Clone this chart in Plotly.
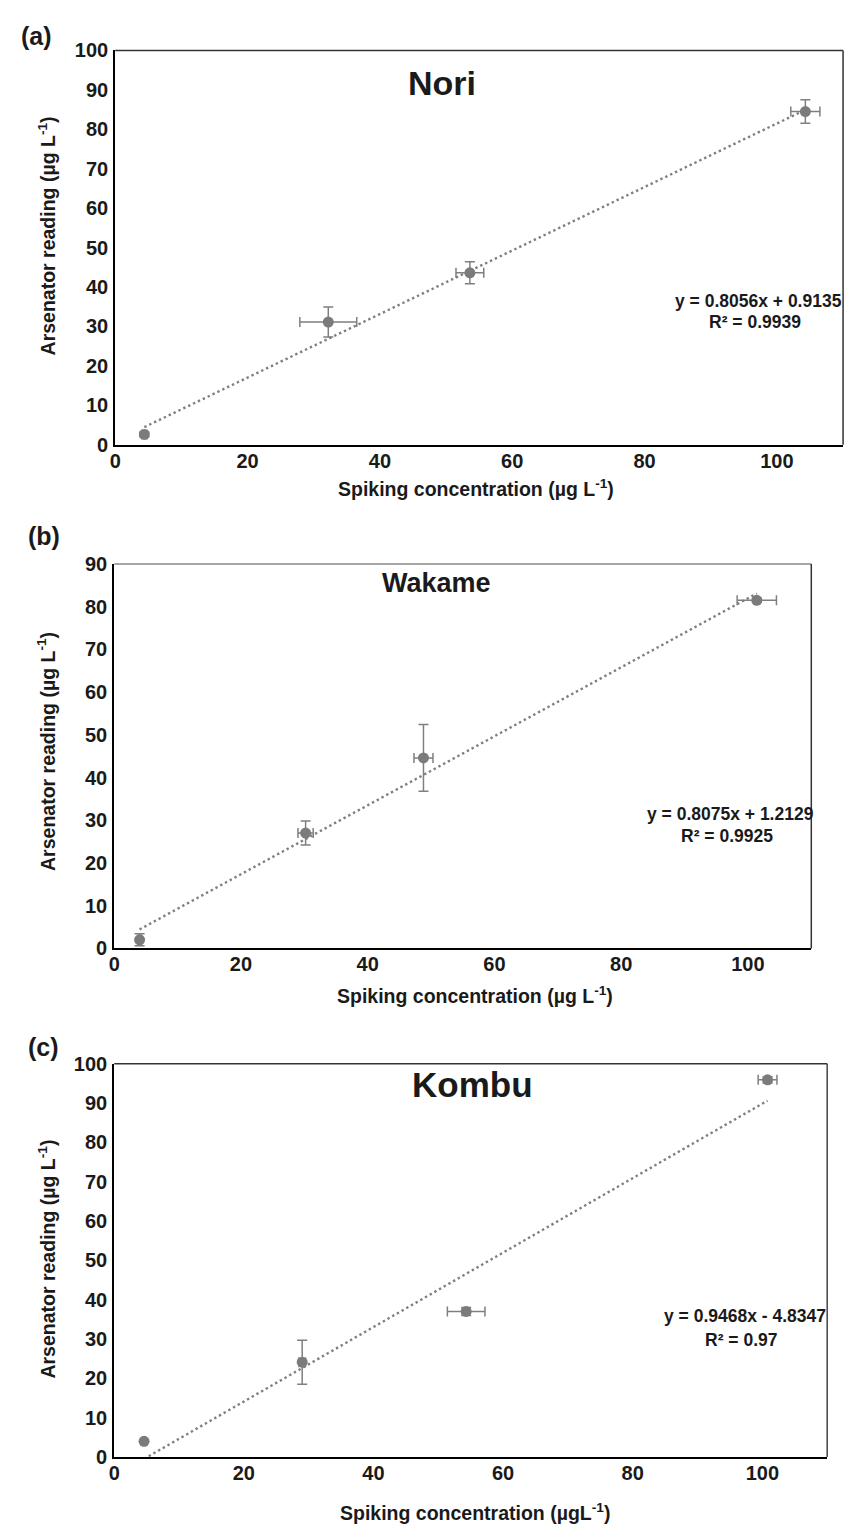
import plotly.graph_objects as go

# ---------------- data ----------------
nori_x = [4.4, 32.2, 53.6, 104.3]
nori_y = [2.6, 31.1, 43.6, 84.5]
nori_xerr = [0.4, 4.3, 2.1, 2.2]
nori_yerr = [0.6, 3.8, 2.8, 3.0]
nori_slope, nori_icpt = 0.8056, 0.9135
nori_eq = "y = 0.8056x + 0.9135"
nori_r2 = "R² = 0.9939"

wakame_x = [4.0, 30.2, 48.8, 101.4]
wakame_y = [2.0, 27.0, 44.6, 81.5]
wakame_xerr = [0.3, 1.2, 1.5, 3.1]
wakame_yerr = [1.4, 2.8, 7.8, 0.5]
wakame_slope, wakame_icpt = 0.8075, 1.2129
wakame_eq = "y = 0.8075x + 1.2129"
wakame_r2 = "R² = 0.9925"

kombu_x = [4.6, 29.0, 54.3, 100.8]
kombu_y = [4.0, 24.1, 37.0, 95.9]
kombu_xerr = [0.2, 0.5, 2.9, 1.45]
kombu_yerr = [0.3, 5.6, 1.0, 0.8]
kombu_slope, kombu_icpt = 0.9468, -4.8347
kombu_eq = "y = 0.9468x - 4.8347"
kombu_r2 = "R² = 0.97"

x_ticks = [0, 20, 40, 60, 80, 100]
y_ticks_100 = [0, 10, 20, 30, 40, 50, 60, 70, 80, 90, 100]
y_ticks_90 = [0, 10, 20, 30, 40, 50, 60, 70, 80, 90]

# ---------------- layout helpers ----------------
W, H = 853, 1537
FONT = "Liberation Sans, Arial, Helvetica, sans-serif"
GRAY = "#7b7b7b"


def px(x):
    return x / W


def py(y):
    return 1 - y / H


panels = [
    dict(name="Nori", x=nori_x, y=nori_y, xe=nori_xerr, ye=nori_yerr,
         m=nori_slope, b=nori_icpt, eq=nori_eq, r2=nori_r2,
         box=(110, 843, 40, 440), yr=[0, 100], yt=y_ticks_100,
         title_xy=(439, 73), title_size=34, label="(a)", label_xy=(31, 25),
         eq_xy=(758, 294), r2_xy=(754, 316),
         xt="Spiking concentration (µg L<sup>-1</sup>)", xt_xy=(473, 484),
         yt_xy=(41, 228), topc="#333333", rightc="#333333"),
    dict(name="Wakame", x=wakame_x, y=wakame_y, xe=wakame_xerr, ye=wakame_yerr,
         m=wakame_slope, b=wakame_icpt, eq=wakame_eq, r2=wakame_r2,
         box=(109, 811, 561, 951), yr=[0, 90], yt=y_ticks_90,
         title_xy=(434, 580), title_size=27, label="(b)", label_xy=(38, 533),
         eq_xy=(730, 815), r2_xy=(726, 837),
         xt="Spiking concentration (µg L<sup>-1</sup>)", xt_xy=(472, 998),
         yt_xy=(41, 751), topc="#888888", rightc="#333333"),
    dict(name="Kombu", x=kombu_x, y=kombu_y, xe=kombu_xerr, ye=kombu_yerr,
         m=kombu_slope, b=kombu_icpt, eq=kombu_eq, r2=kombu_r2,
         box=(109, 827, 1068, 1467), yr=[0, 100], yt=y_ticks_100,
         title_xy=(470, 1089), title_size=35, label="(c)", label_xy=(38, 1051),
         eq_xy=(744, 1324), r2_xy=(740, 1348),
         xt="Spiking concentration (µgL<sup>-1</sup>)", xt_xy=(472, 1523),
         yt_xy=(41, 1266), topc="#333333", rightc="#444444"),
]

fig = go.Figure()
annotations = []
shapes = []

for i, p in enumerate(panels):
    n = "" if i == 0 else str(i + 1)
    xa, ya = "x" + n, "y" + n
    x0, x1, y0, y1 = p["box"]

    # trend line from the fitted equation, across the measured range
    tx = [min(p["x"]), max(p["x"])]
    ty = [p["m"] * v + p["b"] for v in tx]
    fig.add_trace(go.Scatter(
        x=tx, y=ty, mode="lines", xaxis=xa, yaxis=ya, showlegend=False,
        line=dict(color="#7f7f7f", width=2.4, dash="2.4px,3px"),
        hoverinfo="skip"))

    # data points with error bars
    fig.add_trace(go.Scatter(
        x=p["x"], y=p["y"], mode="markers", xaxis=xa, yaxis=ya, showlegend=False,
        name=p["name"],
        marker=dict(color=GRAY, size=11),
        error_x=dict(type="data", array=p["xe"], visible=True,
                     color="#7f7f7f", thickness=1.5, width=5),
        error_y=dict(type="data", array=p["ye"], visible=True,
                     color="#7f7f7f", thickness=1.5, width=5)))

    axis_common = dict(showgrid=False, zeroline=False, showline=True,
                       linecolor="black", linewidth=2, ticks="",
                       tickfont=dict(family=FONT, size=20, color="#1a1a1a", weight="bold"))
    fig.update_layout(**{
        ("xaxis" + n): dict(domain=[px(x0), px(x1)], range=[0, 110],
                            tickvals=x_ticks, anchor=ya, ticklabelstandoff=-3,
                            **axis_common),
        ("yaxis" + n): dict(domain=[py(y1), py(y0)], range=p["yr"],
                            tickvals=p["yt"], anchor=xa, ticklabelstandoff=1,
                            **axis_common),
    })

    # top and right frame lines
    shapes.append(dict(type="line", xref=xa + " domain", yref=ya + " domain",
                       x0=0, x1=1, y0=1, y1=1,
                       line=dict(color=p["topc"], width=1.5)))
    shapes.append(dict(type="line", xref=xa + " domain", yref=ya + " domain",
                       x0=1, x1=1, y0=0, y1=1,
                       line=dict(color=p["rightc"], width=1.5)))

    def ann(text, xy, size, angle=0, color="#1a1a1a"):
        annotations.append(dict(
            text=text, x=px(xy[0]), y=py(xy[1]), xref="paper", yref="paper",
            xanchor="center", yanchor="middle", showarrow=False,
            textangle=angle,
            font=dict(family=FONT, size=size, color=color, weight="bold")))

    ann(p["name"], p["title_xy"], p["title_size"])
    ann(p["label"], p["label_xy"], 25)
    ann(p["eq"], p["eq_xy"], 17.5)
    ann(p["r2"], p["r2_xy"], 17.5)
    ann(p["xt"], p["xt_xy"], 19.5)
    ann("Arsenator reading (µg L<sup>-1</sup>)", p["yt_xy"], 19.5, angle=-90)

fig.update_layout(
    width=W, height=H, autosize=False,
    margin=dict(l=0, r=0, t=0, b=0),
    paper_bgcolor="white", plot_bgcolor="white",
    annotations=annotations, shapes=shapes,
    showlegend=False,
)

fig.write_html(
    "out.html",
    config={"displayModeBar": False, "responsive": False},
    post_script=(
        "document.documentElement.style.margin='0';"
        "document.documentElement.style.padding='0';"
        "document.documentElement.style.overflow='hidden';"
        "document.body.style.margin='0';"
        "document.body.style.padding='0';"
        "document.body.style.overflow='hidden';"
    ),
)
